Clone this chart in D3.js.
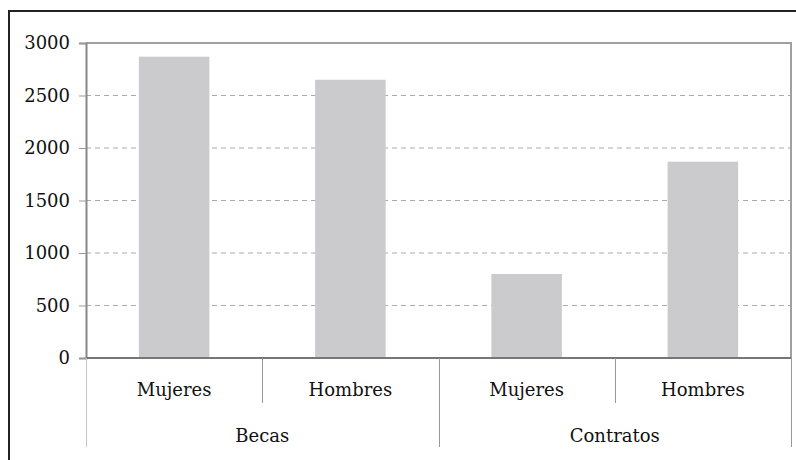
<!DOCTYPE html>
<html>
<head>
<meta charset="utf-8">
<script src="https://cdn.jsdelivr.net/npm/d3@7"></script>
<style>
  body { margin: 0; background: #fff; }
  svg text { font-family: "DejaVu Serif", serif; fill: #111; }
</style>
</head>
<body>
<div id="chart"></div>
<script>
// data
var groups = ["Becas", "Contratos"];
var subgroups = ["Mujeres", "Hombres"];
var becas = [2870, 2650];
var contratos = [800, 1870];
var yTicks = [0, 500, 1000, 1500, 2000, 2500, 3000];

var data = [];
[becas, contratos].forEach(function(vals, gi) {
  vals.forEach(function(v, si) {
    data.push({group: groups[gi], sub: subgroups[si], key: groups[gi] + "|" + subgroups[si], value: v});
  });
});

var W = 796, H = 460;
var margin = {top: 43, right: 5, bottom: 102, left: 86};
var width = W - margin.left - margin.right,
    height = H - margin.top - margin.bottom;

var svg = d3.select("#chart").append("svg")
    .attr("width", W)
    .attr("height", H);

// outer frame (only left and top edges fall inside the picture)
svg.append("path")
  .attr("d", "M9,470 V11 H806")
  .attr("fill", "none")
  .attr("stroke", "#222")
  .attr("stroke-width", 2);

var g = svg.append("g")
    .attr("transform", "translate(" + margin.left + "," + margin.top + ")");

var x = d3.scaleBand()
    .domain(data.map(function(d) { return d.key; }))
    .range([0, width]);

var xg = d3.scaleBand()
    .domain(groups)
    .range([0, width]);

var y = d3.scaleLinear()
    .domain([0, 3000])
    .range([height, 0]);

// grid lines
g.selectAll(".grid")
  .data(yTicks.filter(function(t) { return t > 0 && t < 3000; }))
  .enter().append("line")
  .attr("x1", 0)
  .attr("x2", width)
  .attr("y1", function(d) { return y(d); })
  .attr("y2", function(d) { return y(d); })
  .attr("stroke", "#aaa")
  .attr("stroke-width", 1)
  .attr("stroke-dasharray", "5,4");

// bars
var barW = x.bandwidth() * 0.4;
g.selectAll(".bar")
  .data(data)
  .enter().append("rect")
  .attr("x", function(d) { return x(d.key) + (x.bandwidth() - barW) / 2; })
  .attr("width", barW)
  .attr("y", function(d) { return y(d.value); })
  .attr("height", function(d) { return height - y(d.value); })
  .attr("fill", "#cbcbcd");

// plot frame
g.append("path")
  .attr("d", "M0," + y(3000) + " H" + width + " V" + y(0))
  .attr("fill", "none")
  .attr("stroke", "#a0a0a0")
  .attr("stroke-width", 2);

// y axis
var yAxis = d3.axisLeft(y)
    .tickValues(yTicks)
    .tickSize(7)
    .tickPadding(9)
    .tickFormat(d3.format("d"));

var ya = g.append("g").call(yAxis);
ya.select(".domain").attr("stroke", "#888").attr("stroke-width", 2);
ya.selectAll(".tick line").attr("stroke", "#999");
ya.selectAll(".tick text")
  .attr("font-size", 18)
  .attr("font-family", "DejaVu Serif, serif")
  .attr("fill", "#111");

// baseline
g.append("line")
  .attr("x1", 0).attr("x2", width)
  .attr("y1", y(0)).attr("y2", y(0))
  .attr("stroke", "#777")
  .attr("stroke-width", 2);

// category separators
var subSeps = data.filter(function(d) { return d.sub !== subgroups[0]; });
g.selectAll(".subsep")
  .data(subSeps)
  .enter().append("line")
  .attr("x1", function(d) { return Math.round(x(d.key)) + 0.5; })
  .attr("x2", function(d) { return Math.round(x(d.key)) + 0.5; })
  .attr("y1", y(0))
  .attr("y2", y(0) + 45)
  .attr("stroke", "#999");

var groupEdges = groups.map(function(gr) { return xg(gr); }).concat([width]);
g.selectAll(".grpsep")
  .data(groupEdges)
  .enter().append("line")
  .attr("x1", function(d) { return Math.round(d) + 0.5; })
  .attr("x2", function(d) { return Math.round(d) + 0.5; })
  .attr("y1", y(0))
  .attr("y2", y(0) + 89)
  .attr("stroke", function(d, i) { return i === 0 ? "#c4c4c4" : "#999"; });

// category labels
g.selectAll(".sublabel")
  .data(data)
  .enter().append("text")
  .attr("x", function(d) { return x(d.key) + x.bandwidth() / 2; })
  .attr("y", y(0) + 38)
  .attr("text-anchor", "middle")
  .attr("font-size", 18)
  .text(function(d) { return d.sub; });

g.selectAll(".grplabel")
  .data(groups)
  .enter().append("text")
  .attr("x", function(d) { return xg(d) + xg.bandwidth() / 2; })
  .attr("y", y(0) + 84)
  .attr("text-anchor", "middle")
  .attr("font-size", 18)
  .text(function(d) { return d; });
</script>
</body>
</html>
